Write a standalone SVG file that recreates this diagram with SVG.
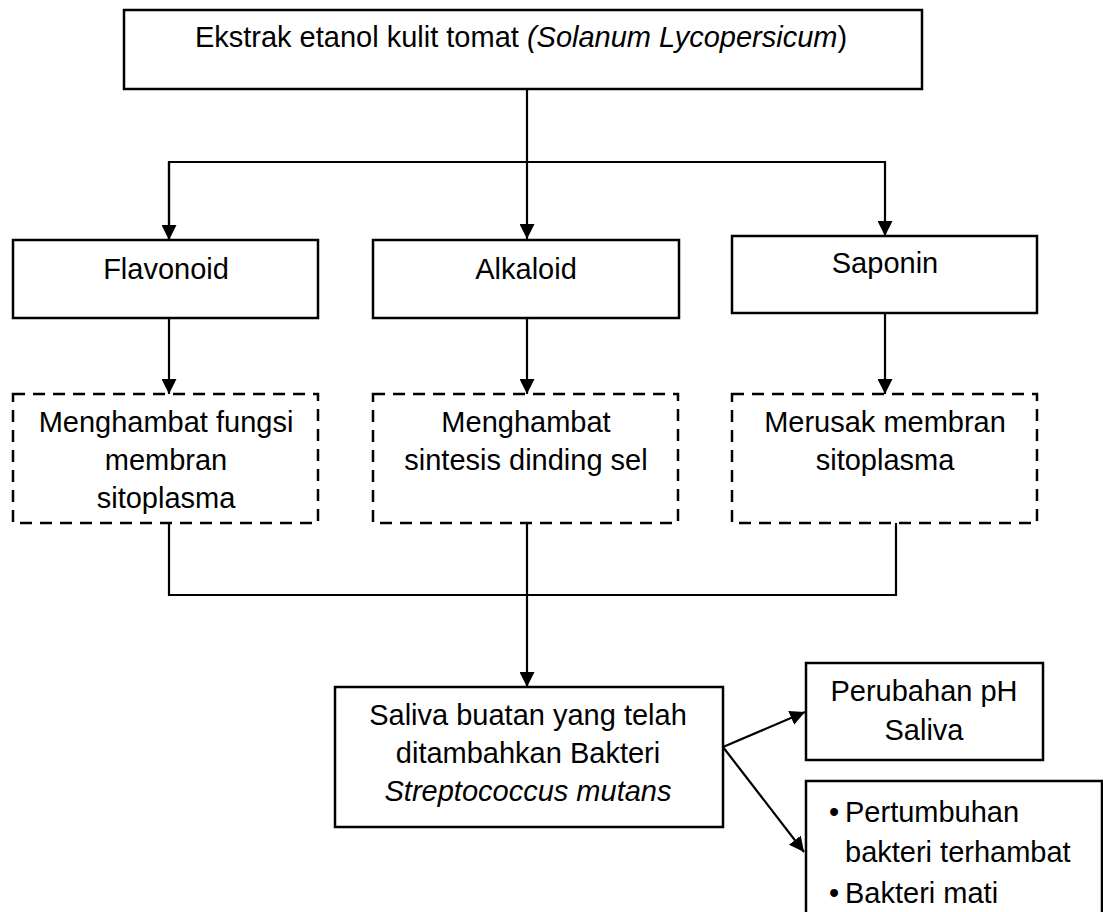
<svg xmlns="http://www.w3.org/2000/svg" width="1103" height="912" viewBox="0 0 1103 912">
<style>
.box{fill:#fff;stroke:#000;stroke-width:2.5}
.dbox{fill:#fff;stroke:#000;stroke-width:2.5;stroke-dasharray:12 8}
.t{font-family:"Liberation Sans",Arial,sans-serif;font-size:29px;fill:#000;text-anchor:middle}
.tl{font-family:"Liberation Sans",Arial,sans-serif;font-size:29px;fill:#000}
.it{font-style:italic}
.c{fill:none;stroke:#000;stroke-width:2.2}
</style>
<defs>
<marker id="ah" markerUnits="userSpaceOnUse" markerWidth="15" markerHeight="15" viewBox="0 0 15 15" refX="15" refY="7.5" orient="auto">
<path d="M0,0 L15,7.5 L0,15 z" fill="#000"/>
</marker>
</defs>
<rect width="1103" height="912" fill="#fff"/>
<g id="connectors">
<line class="c" x1="527" y1="89" x2="527" y2="239" marker-end="url(#ah)"/>
<polyline class="c" points="169,240 169,162 885,162 885,236" marker-end="url(#ah)"/>
<line class="c" x1="169" y1="162" x2="169" y2="240" marker-end="url(#ah)"/>
<line class="c" x1="169" y1="318" x2="169" y2="394" marker-end="url(#ah)"/>
<line class="c" x1="527" y1="318" x2="527" y2="394" marker-end="url(#ah)"/>
<line class="c" x1="885" y1="313" x2="885" y2="394" marker-end="url(#ah)"/>
<polyline class="c" points="169,523 169,595 896,595 896,523"/>
<line class="c" x1="527" y1="523" x2="527" y2="687" marker-end="url(#ah)"/>
<line class="c" x1="723" y1="747" x2="805" y2="712" marker-end="url(#ah)"/>
<line class="c" x1="723" y1="747" x2="804" y2="852" marker-end="url(#ah)"/>
</g>
<g id="ekstrak">
<rect class="box" x="124" y="10" width="798" height="79"/>
<text class="t" x="521" y="47">Ekstrak etanol kulit tomat <tspan class="it">(Solanum Lycopersicum</tspan>)</text>
</g>
<g id="flavonoid">
<rect class="box" x="13" y="240" width="305" height="78"/>
<text class="t" x="166" y="279">Flavonoid</text>
</g>
<g id="alkaloid">
<rect class="box" x="373" y="240" width="306" height="78"/>
<text class="t" x="526" y="279">Alkaloid</text>
</g>
<g id="saponin">
<rect class="box" x="732" y="236" width="305" height="77"/>
<text class="t" x="885" y="273">Saponin</text>
</g>
<g id="flav-effect">
<rect class="dbox" x="13" y="394" width="305" height="129"/>
<text class="t" x="166" y="432">Menghambat fungsi</text>
<text class="t" x="166" y="470">membran</text>
<text class="t" x="166" y="508">sitoplasma</text>
</g>
<g id="alk-effect">
<rect class="dbox" x="373" y="394" width="305" height="129"/>
<text class="t" x="526" y="432">Menghambat</text>
<text class="t" x="526" y="470">sintesis dinding sel</text>
</g>
<g id="sap-effect">
<rect class="dbox" x="732" y="394" width="305" height="129"/>
<text class="t" x="885" y="432">Merusak membran</text>
<text class="t" x="885" y="470">sitoplasma</text>
</g>
<g id="saliva">
<rect class="box" x="335" y="687" width="388" height="140"/>
<text class="t" x="528" y="725">Saliva buatan yang telah</text>
<text class="t" x="528" y="763">ditambahkan Bakteri</text>
<text class="t it" x="528" y="801">Streptococcus mutans</text>
</g>
<g id="ph">
<rect class="box" x="806" y="663" width="237" height="97"/>
<text class="t" x="924" y="701">Perubahan pH</text>
<text class="t" x="924" y="740">Saliva</text>
</g>
<g id="hasil">
<rect class="box" x="806" y="781" width="296" height="150"/>
<text class="tl" x="829" y="822">•</text>
<text class="tl" x="845" y="822">Pertumbuhan</text>
<text class="tl" x="845" y="862">bakteri terhambat</text>
<text class="tl" x="829" y="903">•</text>
<text class="tl" x="845" y="903">Bakteri mati</text>
</g>
</svg>
